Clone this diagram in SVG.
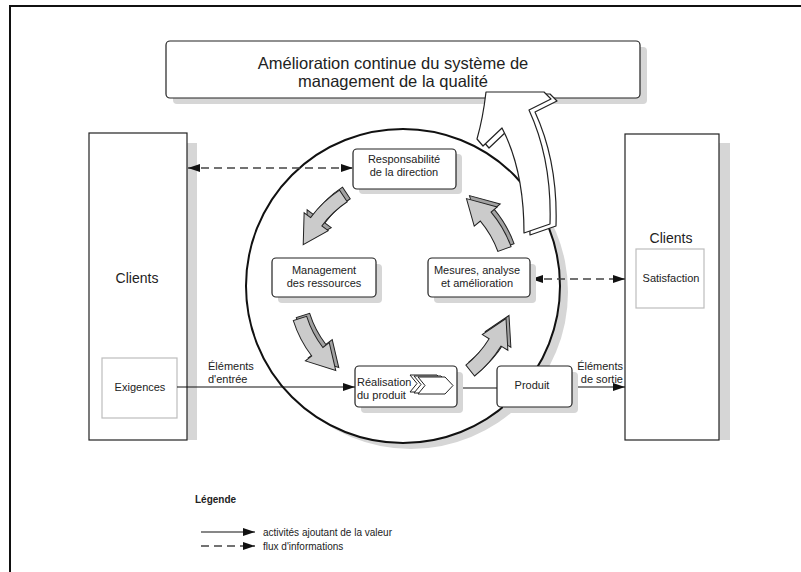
<svg xmlns="http://www.w3.org/2000/svg" xmlns:xlink="http://www.w3.org/1999/xlink" width="801" height="572" viewBox="0 0 801 572">
<style>
.t{font-family:"Liberation Sans",Arial,sans-serif;fill:#222}
.box{fill:#fff;stroke:#222;stroke-width:1.2}
.sh{fill:#d6d6d6}
.inner{fill:#fff;stroke:#bdbdbd;stroke-width:1.2}
.solid{fill:none;stroke:#111;stroke-width:1.2}
.dash{fill:none;stroke:#444;stroke-width:1.6;stroke-dasharray:8 5}
.ca{fill:#cbcbcb;stroke:#222;stroke-width:1}
.cab{fill:#a2a2a2;stroke:#222;stroke-width:1}
.big{fill:#fff;stroke:#222;stroke-width:1.2;stroke-linejoin:round}
.chev{fill:#fff;stroke:#222;stroke-width:1}
</style>
<defs>
<marker id="ah" viewBox="0 0 12 8" refX="12" refY="4" markerWidth="12" markerHeight="8" markerUnits="userSpaceOnUse" orient="auto-start-reverse"><path d="M0,0 L12,4 L0,8 Z" fill="#111"/></marker>
<path id="ca" d="M109.97,33.63 A115,115 0 0 0 114.84,-6.02 L122.83,-6.44 L103.28,-31.58 L92.87,-4.87 L100.86,-5.29 A101,101 0 0 1 96.59,29.53 Z"/>
<path id="chev" d="M0,0 L27,0 L35,8.5 L27,17 L0,17 L7,8.5 Z"/>
</defs>

<rect width="801" height="572" fill="#fff"/>
<path d="M10,572 L10,6 L801,6" fill="none" stroke="#111" stroke-width="2"/>

<!-- circle -->
<g id="cycle">
<circle cx="411" cy="292" r="157" fill="#d6d6d6"/>
<circle cx="403" cy="286" r="157" fill="#fff" stroke="#111" stroke-width="2"/>
</g>

<!-- top box -->
<g id="amelioration">
<rect class="sh" x="173" y="47" width="474" height="57" rx="4"/>
<rect class="box" x="166" y="41" width="474" height="57" rx="4"/>
<text class="t" font-size="16.5" text-anchor="middle" x="393" y="69">Amélioration continue du système de</text>
<text class="t" font-size="16.5" text-anchor="middle" x="393" y="87">management de la qualité</text>
</g>

<!-- left clients -->
<g id="clients-gauche">
<rect class="sh" x="187" y="143" width="10" height="297"/>
<rect class="box" x="89" y="133" width="98" height="307"/>
<text class="t" font-size="14" text-anchor="middle" x="137" y="283">Clients</text>
<rect class="inner" x="102" y="358" width="75" height="60"/>
<text class="t" font-size="11" text-anchor="middle" x="140" y="391">Exigences</text>
</g>

<!-- right clients -->
<g id="clients-droite">
<rect class="sh" x="719" y="143" width="11" height="297"/>
<rect class="box" x="625" y="134" width="94" height="306"/>
<text class="t" font-size="14" text-anchor="middle" x="671" y="243">Clients</text>
<rect class="inner" x="636" y="249" width="68" height="59"/>
<text class="t" font-size="11" text-anchor="middle" x="671" y="282">Satisfaction</text>
</g>

<!-- connectors -->
<g id="connectors">
<line class="dash" x1="188" y1="168" x2="353" y2="168" marker-start="url(#ah)" marker-end="url(#ah)"/>
<line class="dash" x1="531" y1="279" x2="625" y2="279" marker-start="url(#ah)" marker-end="url(#ah)"/>
<line class="solid" x1="177" y1="387" x2="355" y2="387" marker-end="url(#ah)"/>
<line class="solid" x1="457" y1="388" x2="497" y2="388"/>
<line class="solid" x1="572" y1="387" x2="625" y2="387" marker-end="url(#ah)"/>
<text class="t" font-size="11" x="208" y="370">Éléments</text>
<text class="t" font-size="11" x="208" y="383">d'entrée</text>
<text class="t" font-size="11" text-anchor="end" x="623" y="370">Éléments</text>
<text class="t" font-size="11" text-anchor="end" x="623" y="383">de sortie</text>
</g>

<!-- cycle arrows -->
<g id="fleches-cycle">
<use xlink:href="#ca" class="cab" transform="translate(406,283) rotate(219.5)"/>
<use xlink:href="#ca" class="ca" transform="translate(403,286) rotate(219.5)"/>
<use xlink:href="#ca" class="cab" transform="translate(406,283) rotate(145.5)"/>
<use xlink:href="#ca" class="ca" transform="translate(403,286) rotate(145.5)"/>
<use xlink:href="#ca" class="cab" transform="translate(406,283) rotate(34.5)"/>
<use xlink:href="#ca" class="ca" transform="translate(403,286) rotate(34.5)"/>
<use xlink:href="#ca" class="cab" transform="translate(406,283) rotate(323)"/>
<use xlink:href="#ca" class="ca" transform="translate(403,286) rotate(323)"/>
</g>

<g id="responsabilite">
<rect class="sh" x="359" y="154" width="103" height="40" rx="4"/>
<rect class="box" x="353" y="149" width="103" height="40" rx="4"/>
<text class="t" font-size="11" text-anchor="middle" x="404" y="163">Responsabilité</text>
<text class="t" font-size="11" text-anchor="middle" x="404" y="176">de la direction</text>
</g>

<g id="management">
<rect class="sh" x="278" y="264" width="104" height="39" rx="4"/>
<rect class="box" x="272" y="258" width="104" height="39" rx="4"/>
<text class="t" font-size="11" text-anchor="middle" x="324" y="274">Management</text>
<text class="t" font-size="11" text-anchor="middle" x="324" y="287">des ressources</text>
</g>

<g id="mesures">
<rect class="sh" x="434" y="264" width="102" height="39" rx="4"/>
<rect class="box" x="428" y="258" width="102" height="39" rx="4"/>
<text class="t" font-size="11" text-anchor="middle" x="477" y="274">Mesures, analyse</text>
<text class="t" font-size="11" text-anchor="middle" x="477" y="287">et amélioration</text>
</g>

<g id="realisation">
<rect class="sh" x="361" y="372" width="102" height="41" rx="4"/>
<rect class="box" x="355" y="366" width="102" height="41" rx="4"/>
<use xlink:href="#chev" class="chev" x="410" y="375"/>
<use xlink:href="#chev" class="chev" x="414" y="376"/>
<use xlink:href="#chev" class="chev" x="418" y="377"/>
<text class="t" font-size="11" x="357" y="386">Réalisation</text>
<text class="t" font-size="11" x="357" y="399">du produit</text>
</g>

<g id="produit">
<rect class="sh" x="503" y="372" width="75" height="41" rx="4"/>
<rect class="box" x="497" y="366" width="75" height="41" rx="4"/>
<text class="t" font-size="11" text-anchor="middle" x="532" y="389">Produit</text>
</g>

<!-- big improvement arrow -->
<g id="fleche-amelioration">
<path class="big" transform="translate(6,2)" d="M524,233 L550,224 Q552,160 529,110 L551,99 L544,92 L486,92 Q483,118 477,139 L483,146 L502,128 Q524,170 524,233 Z"/>
<path class="big" d="M524,233 L550,224 Q552,160 529,110 L551,99 L544,92 L486,92 Q483,118 477,139 L483,146 L502,128 Q524,170 524,233 Z"/>
</g>

<!-- legend -->
<g id="legende">
<text class="t" font-size="10" font-weight="bold" x="195" y="503">Légende</text>
<line class="solid" x1="201" y1="532" x2="255" y2="532" marker-end="url(#ah)"/>
<text class="t" font-size="10" x="263" y="536">activités ajoutant de la valeur</text>
<line class="dash" x1="201" y1="546" x2="255" y2="546" stroke-dasharray="10 5" marker-end="url(#ah)"/>
<text class="t" font-size="10" x="263" y="550">flux d'informations</text>
</g>
</svg>
